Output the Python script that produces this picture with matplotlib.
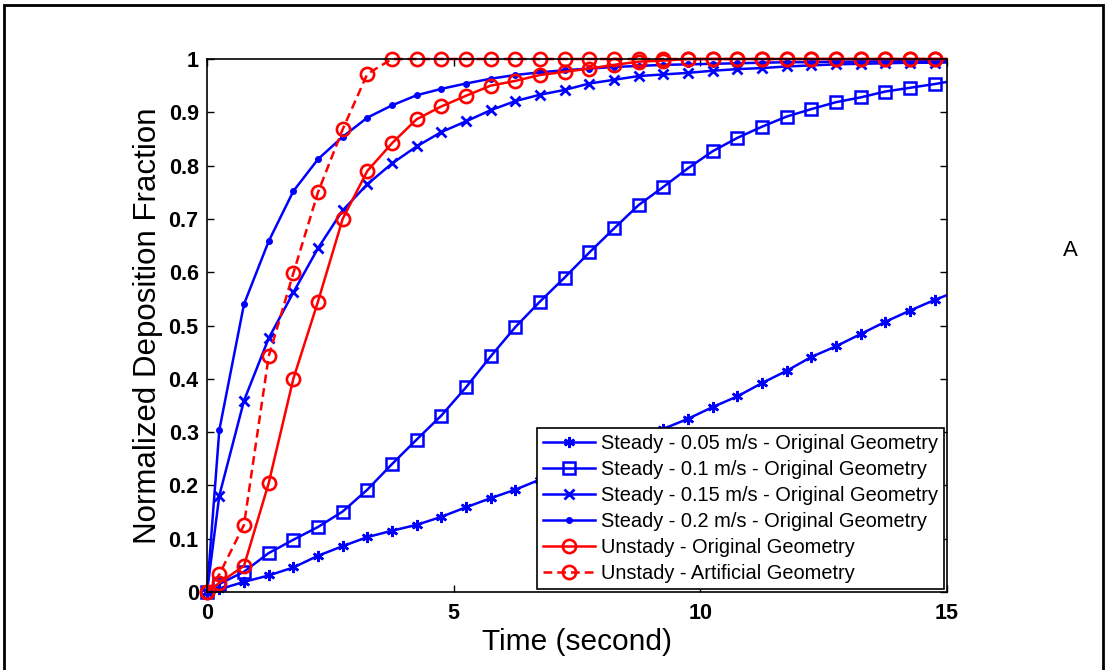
import matplotlib
matplotlib.use("Agg")
import matplotlib.pyplot as plt
from matplotlib.transforms import Bbox, TransformedBbox
from matplotlib.patches import Rectangle

plt.rcParams['font.family'] = ['Liberation Sans', 'DejaVu Sans']

# Sampling times (s)
time_s = [0, 0.25, 0.75, 1.25, 1.75, 2.25, 2.75, 3.25, 3.75, 4.25, 4.75,
          5.25, 5.75, 6.25, 6.75, 7.25, 7.75, 8.25, 8.75, 9.25, 9.75,
          10.25, 10.75, 11.25, 11.75, 12.25, 12.75, 13.25, 13.75, 14.25,
          14.75, 15.25]

steady_005 = [0, 0.005, 0.019, 0.031, 0.046, 0.068, 0.086, 0.103, 0.115,
              0.126, 0.141, 0.159, 0.176, 0.192, 0.211, 0.229, 0.248, 0.267,
              0.287, 0.306, 0.325, 0.347, 0.367, 0.392, 0.415, 0.441, 0.461,
              0.484, 0.507, 0.528, 0.548, 0.566]
steady_01 = [0, 0.015, 0.038, 0.073, 0.098, 0.122, 0.151, 0.192, 0.240,
             0.286, 0.331, 0.384, 0.442, 0.497, 0.545, 0.590, 0.637, 0.682,
             0.726, 0.760, 0.795, 0.827, 0.852, 0.873, 0.892, 0.906, 0.919,
             0.928, 0.939, 0.946, 0.953, 0.961]
steady_015 = [0, 0.181, 0.359, 0.476, 0.562, 0.645, 0.716, 0.765, 0.804,
              0.836, 0.863, 0.883, 0.904, 0.921, 0.933, 0.942, 0.954, 0.961,
              0.968, 0.971, 0.974, 0.978, 0.981, 0.983, 0.986, 0.988, 0.990,
              0.991, 0.992, 0.993, 0.993, 0.994]
steady_02 = [0, 0.304, 0.540, 0.658, 0.752, 0.812, 0.854, 0.890, 0.913,
             0.932, 0.944, 0.954, 0.963, 0.970, 0.975, 0.979, 0.982, 0.985,
             0.987, 0.989, 0.990, 0.991, 0.992, 0.993, 0.994, 0.994, 0.995,
             0.995, 0.996, 0.996, 0.996, 0.997]
unsteady_orig = [0, 0.017, 0.049, 0.204, 0.400, 0.545, 0.700, 0.790, 0.842,
                 0.887, 0.911, 0.931, 0.950, 0.959, 0.970, 0.976, 0.982,
                 0.989, 0.995, 0.997, 1.0, 1.0, 1.0, 1.0, 1.0, 1.0, 1.0,
                 1.0, 1.0, 1.0, 1.0, 1.0]
unsteady_art = [0, 0.033, 0.126, 0.442, 0.598, 0.750, 0.868, 0.972, 1.0,
                1.0, 1.0, 1.0, 1.0, 1.0, 1.0, 1.0, 1.0, 1.0, 1.0, 1.0, 1.0,
                1.0, 1.0, 1.0, 1.0, 1.0, 1.0, 1.0, 1.0, 1.0, 1.0, 1.0]

labels = ['Steady - 0.05 m/s - Original Geometry',
          'Steady - 0.1 m/s - Original Geometry',
          'Steady - 0.15 m/s - Original Geometry',
          'Steady - 0.2 m/s - Original Geometry',
          'Unstady - Original Geometry',
          'Unstady - Artificial Geometry']

x_ticks = [0, 5, 10, 15]
y_ticks = [0, 0.1, 0.2, 0.3, 0.4, 0.5, 0.6, 0.7, 0.8, 0.9, 1]
y_tick_labels = ['0', '0.1', '0.2', '0.3', '0.4', '0.5', '0.6', '0.7',
                 '0.8', '0.9', '1']

fig = plt.figure(figsize=(11.08, 6.70), dpi=100)
ax = fig.add_axes([207 / 1108, 1 - 592 / 670, 740 / 1108, 533 / 670])

lw = 1.8
styles = [
    dict(color='blue', ls='-', marker=(6, 2, 0), ms=8, mew=1.8),
    dict(color='blue', ls='-', marker='s', ms=8, mew=1.8, mfc='none'),
    dict(color='blue', ls='-', marker='x', ms=7, mew=2.0),
    dict(color='blue', ls='-', marker='o', ms=4, mew=1.0),
    dict(color='red', ls='-', marker='o', ms=9.5, mew=1.9, mfc='none'),
    dict(color='red', ls=(0, (3.5, 2)), marker='o', ms=9.5, mew=1.9,
         mfc='none'),
]
series = [steady_005, steady_01, steady_015, steady_02, unsteady_orig,
          unsteady_art]

# Clip lines at the right x-limit but let markers on the edges show in full
clip = TransformedBbox(Bbox([[-0.03, -0.03], [1.0, 1.03]]), ax.transAxes)
for vals, st, lab in zip(series, styles, labels):
    line, = ax.plot(time_s, vals, lw=lw, label=lab, **st)
    line.set_clip_box(clip)

ax.set_xlim(0, 15)
ax.set_ylim(0, 1)
ax.set_xticks(x_ticks)
ax.set_yticks(y_ticks)
ax.set_yticklabels(y_tick_labels)
ax.tick_params(direction='in', top=True, right=True, length=5, width=1,
               labelsize=15.5)
ax.tick_params(axis='y', pad=6)
ax.tick_params(axis='x', pad=8)
for lbl in ax.get_xticklabels() + ax.get_yticklabels():
    lbl.set_fontweight('bold')
for sp in ax.spines.values():
    sp.set_linewidth(1.2)

ax.set_xlabel('Time (second)', fontsize=21.5, labelpad=3)
ax.set_ylabel('Normalized Deposition Fraction', fontsize=22.5, labelpad=4)

leg = ax.legend(loc='lower right', fontsize=14.4, numpoints=1,
                frameon=True, fancybox=False, framealpha=1,
                edgecolor='black', borderaxespad=0.15, borderpad=0.3,
                handlelength=2.6, handletextpad=0.3, labelspacing=0.35)
leg.get_frame().set_linewidth(1.2)

fig.text(1070 / 1108, 1 - 250 / 670, 'A', fontsize=16, ha='center',
         va='center')

fig.add_artist(Rectangle((4 / 1108, -0.1), (1103 - 4) / 1108,
                         1.1 - 5 / 670, transform=fig.transFigure,
                         fill=False, lw=2, ec='black'))

fig.savefig('out.png', dpi=100)
